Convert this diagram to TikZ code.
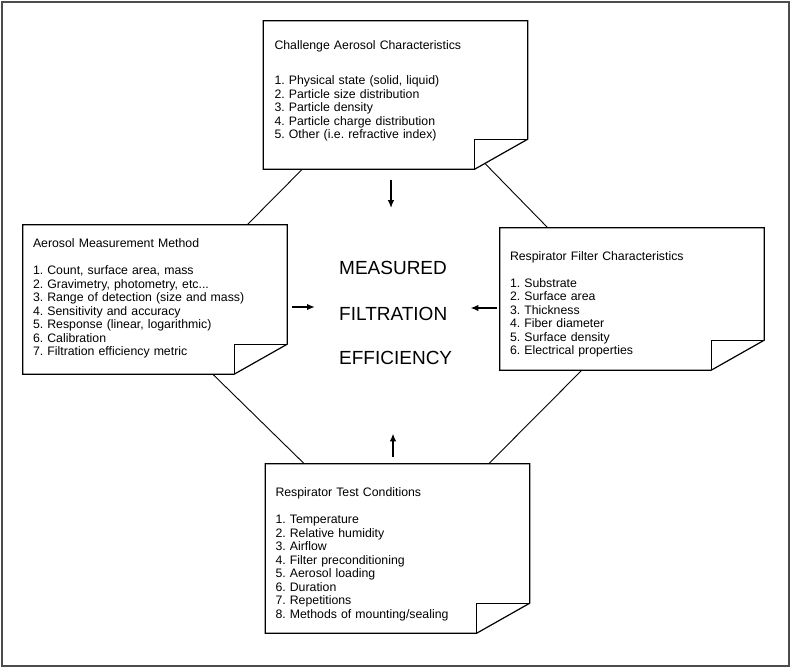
\documentclass[tikz,border=0pt]{standalone}
\usepackage{fontspec}
\setmainfont{Liberation Sans}
\usetikzlibrary{arrows.meta,positioning}
\frenchspacing

\newcommand{\dogear}[1]{%
  \draw[noteline] (#1.north west) -- (#1.north east) -- ([yshift=30pt]#1.south east)
        -- ([xshift=-53pt]#1.south east) -- (#1.south west) -- cycle;
  \draw[noteline] ([xshift=-53pt]#1.south east) -- ([xshift=-53pt,yshift=30pt]#1.south east)
        -- ([yshift=30pt]#1.south east);}

\begin{document}
\begin{tikzpicture}[x=1pt,y=-1pt,>={Latex[length=8pt,width=6.5pt]},
  note/.style={rectangle,on grid,minimum width=264pt,inner sep=0pt},
  notetext/.style={inner sep=0pt,align=left,text width=245pt,font=\fontsize{12.3}{13.5}\selectfont},
  bigword/.style={inner sep=0pt,font=\fontsize{19}{19}\selectfont},
  noteline/.style={line width=1.2pt,line join=miter}]
  \useasboundingbox (0,0) rectangle (791,669);
  \draw[line width=2pt,black!70] (2,2) rectangle (789,666);

  \node[note,minimum height=148pt] (chal)                                           at (395.5,95) {};
  \node[note,minimum height=149pt] (meas) [below left =204.5pt and 240.5pt of chal] {};
  \node[note,minimum height=142pt] (filt) [below right=204pt and 236.5pt of chal]   {};
  \node[note,minimum height=169pt] (cond) [below right=453.5pt and 2pt of chal]     {};

  \dogear{chal}
  \dogear{meas}
  \dogear{filt}
  \dogear{cond}

  \node[notetext] (chaltxt) [below right=19.7pt and 11pt of chal.north west]
    {Challenge Aerosol Characteristics\\[21.5pt]
     1. Physical state (solid, liquid)\\
     2. Particle size distribution\\
     3. Particle density\\
     4. Particle charge distribution\\
     5. Other (i.e. refractive index)};
  \node[notetext] (meastxt) [below right=14pt and 10pt of meas.north west]
    {Aerosol Measurement Method\\[13.5pt]
     1. Count, surface area, mass\\
     2. Gravimetry, photometry, etc...\\
     3. Range of detection (size and mass)\\
     4. Sensitivity and accuracy\\
     5. Response (linear, logarithmic)\\
     6. Calibration\\
     7. Filtration efficiency metric};
  \node[notetext] (filttxt) [below right=23.5pt and 10pt of filt.north west]
    {Respirator Filter Characteristics\\[13.5pt]
     1. Substrate\\
     2. Surface area\\
     3. Thickness\\
     4. Fiber diameter\\
     5. Surface density\\
     6. Electrical properties};
  \node[notetext] (condtxt) [below right=24pt and 10pt of cond.north west]
    {Respirator Test Conditions\\[13.5pt]
     1. Temperature\\
     2. Relative humidity\\
     3. Airflow\\
     4. Filter preconditioning\\
     5. Aerosol loading\\
     6. Duration\\
     7. Repetitions\\
     8. Methods of mounting/sealing};

  \node[bigword,anchor=base west] (measured)   at (339,274)                                      {MEASURED};
  \node[bigword] (filtration) [below=46pt of measured.base west,anchor=base west]   {FILTRATION};
  \node[bigword] (efficiency) [below=44pt of filtration.base west,anchor=base west] {EFFICIENCY};

\tikzset{joinline/.style={line width=0.9pt}}
\tikzset{towards/.style={->,line width=1.7pt}}
\path ([xshift=39pt]chal.south west)              edge [joinline] ([xshift=-40pt]meas.north east)
      ([xshift=-43pt,yshift=6pt]chal.south east)  edge [joinline] ([xshift=48pt]filt.north west)
      ([xshift=190pt]meas.south west)             edge [joinline] ([xshift=39pt]cond.north west)
      ([xshift=82pt]filt.south west)              edge [joinline] ([xshift=-41pt]cond.north east)
      ([xshift=-4.5pt]chal.south) edge [towards,shorten <=11pt,shorten >=52.4pt] ([xshift=-4.5pt]chal.south |- measured.north)
      ([yshift=-7.5pt]meas.east)  edge [towards,shorten <=5pt,shorten >=24pt]    ([yshift=-7.5pt]meas.east -| filtration.west)
      ([yshift=-9pt]filt.west)    edge [towards,shorten <=3pt,shorten >=23pt]    ([yshift=-9pt]filt.west -| filtration.east)
      ([xshift=-4.5pt]cond.north) edge [towards,shorten <=7pt,shorten >=69pt]    ([xshift=-4.5pt]cond.north |- efficiency.south);
\end{tikzpicture}
\end{document}
